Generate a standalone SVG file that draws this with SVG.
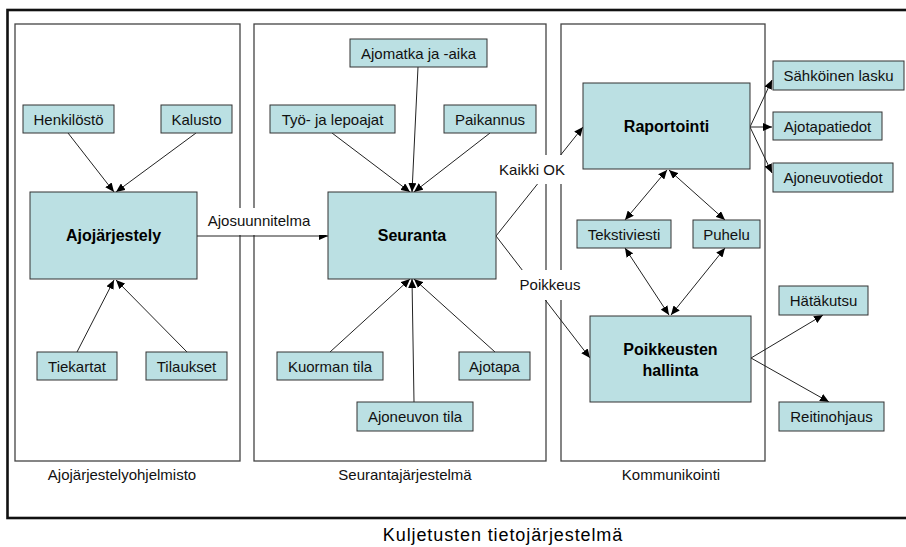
<svg xmlns="http://www.w3.org/2000/svg" width="906" height="547" viewBox="0 0 906 547">
  <defs>
    <marker id="arr" viewBox="0 0 9 8" refX="9" refY="4" markerWidth="9" markerHeight="8" markerUnits="userSpaceOnUse" orient="auto-start-reverse">
      <path d="M0,0 L9,4 L0,8 z" fill="#000"/>
    </marker>
    <style>
      .frame { fill: none; stroke: #111; stroke-width: 2.6; }
      .panel { fill: #fff; stroke: #444; stroke-width: 1.3; }
      .box { fill: #BBE0E3; stroke: #333; stroke-width: 1; }
      .t { font-family: "Liberation Sans", Arial, sans-serif; font-size: 15px; fill: #111; text-anchor: middle; }
      .b { font-family: "Liberation Sans", Arial, sans-serif; font-size: 16px; font-weight: bold; fill: #000; text-anchor: middle; }
      .title { font-family: "Liberation Sans", Arial, sans-serif; font-size: 18px; letter-spacing: 0.9px; fill: #000; text-anchor: middle; }
      .ln { fill: none; stroke: #222; stroke-width: 1; }
      .a { marker-end: url(#arr); }
      .aa { marker-start: url(#arr); marker-end: url(#arr); }
      .lbl { fill: #fff; stroke: none; }
    </style>
  </defs>

  <rect x="0" y="0" width="906" height="547" fill="#fff"/>

  <!-- outer system frame -->
  <rect class="frame" x="7.5" y="10" width="910" height="508"/>
  <text class="title" x="503" y="541">Kuljetusten tietojärjestelmä</text>

  <!-- subsystem panels -->
  <g id="panel-ajojarjestely">
    <rect class="panel" x="15" y="24" width="225" height="437"/>
    <text class="t" x="122" y="480">Ajojärjestelyohjelmisto</text>
  </g>
  <g id="panel-seuranta">
    <rect class="panel" x="254" y="24" width="292" height="437"/>
    <text class="t" x="405" y="480">Seurantajärjestelmä</text>
  </g>
  <g id="panel-kommunikointi">
    <rect class="panel" x="561" y="24" width="204" height="437"/>
    <text class="t" x="671" y="480">Kommunikointi</text>
  </g>

  <!-- connectors -->
  <g id="connectors">
    <line class="ln a" x1="68" y1="133" x2="114" y2="192"/>
    <line class="ln a" x1="196" y1="133" x2="116" y2="192"/>
    <line class="ln a" x1="77" y1="352" x2="114" y2="280"/>
    <line class="ln a" x1="187" y1="352" x2="116" y2="280"/>

    <line class="ln a" x1="197" y1="236" x2="328" y2="236"/>

    <line class="ln a" x1="418" y1="67" x2="412" y2="192"/>
    <line class="ln a" x1="332" y1="133" x2="410" y2="192"/>
    <line class="ln a" x1="490" y1="133" x2="414" y2="192"/>
    <line class="ln a" x1="330" y1="352" x2="410" y2="279"/>
    <line class="ln a" x1="414" y1="402" x2="412" y2="279"/>
    <line class="ln a" x1="495" y1="352" x2="414" y2="279"/>

    <line class="ln a" x1="496" y1="236" x2="583" y2="127"/>
    <line class="ln a" x1="496" y1="236" x2="590" y2="358"/>

    <line class="ln a" x1="750" y1="127" x2="772" y2="80"/>
    <line class="ln a" x1="750" y1="127" x2="772" y2="127"/>
    <line class="ln a" x1="750" y1="127" x2="772" y2="173"/>

    <line class="ln aa" x1="667" y1="170" x2="625" y2="220"/>
    <line class="ln aa" x1="669" y1="170" x2="725" y2="220"/>
    <line class="ln aa" x1="625" y1="248" x2="669" y2="315"/>
    <line class="ln aa" x1="725" y1="248" x2="671" y2="315"/>

    <line class="ln a" x1="751" y1="358" x2="823" y2="315"/>
    <line class="ln a" x1="751" y1="358" x2="829" y2="402"/>

    <!-- connector labels on white -->
    <rect class="lbl" x="198" y="208" width="129" height="27"/>
    <text class="t" x="259" y="226">Ajosuunnitelma</text>
    <rect class="lbl" x="496" y="155" width="71" height="29"/>
    <text class="t" x="532" y="175">Kaikki OK</text>
    <rect class="lbl" x="514" y="270" width="73" height="30"/>
    <text class="t" x="550" y="290">Poikkeus</text>
  </g>

  <!-- Ajojärjestelyohjelmisto nodes -->
  <g id="henkilosto"><rect class="box" x="23" y="105" width="91" height="28"/><text class="t" x="68.5" y="124.5">Henkilöstö</text></g>
  <g id="kalusto"><rect class="box" x="161" y="105" width="71" height="28"/><text class="t" x="196.5" y="124.5">Kalusto</text></g>
  <g id="ajojarjestely"><rect class="box" x="30" y="192" width="167" height="87"/><text class="b" x="113.5" y="241">Ajojärjestely</text></g>
  <g id="tiekartat"><rect class="box" x="37" y="352" width="80" height="28"/><text class="t" x="77" y="371.5">Tiekartat</text></g>
  <g id="tilaukset"><rect class="box" x="146" y="352" width="81" height="28"/><text class="t" x="186.5" y="371.5">Tilaukset</text></g>

  <!-- Seurantajärjestelmä nodes -->
  <g id="ajomatka"><rect class="box" x="350" y="39" width="137" height="28"/><text class="t" x="418.5" y="58.5">Ajomatka ja -aika</text></g>
  <g id="tyo-lepoajat"><rect class="box" x="270" y="105" width="125" height="28"/><text class="t" x="332.5" y="124.5">Työ- ja lepoajat</text></g>
  <g id="paikannus"><rect class="box" x="444" y="105" width="92" height="28"/><text class="t" x="490" y="124.5">Paikannus</text></g>
  <g id="seuranta"><rect class="box" x="328" y="192" width="168" height="87"/><text class="b" x="412" y="241">Seuranta</text></g>
  <g id="kuorman-tila"><rect class="box" x="277" y="352" width="106" height="28"/><text class="t" x="330" y="371.5">Kuorman tila</text></g>
  <g id="ajotapa"><rect class="box" x="459" y="352" width="71" height="28"/><text class="t" x="494.5" y="371.5">Ajotapa</text></g>
  <g id="ajoneuvon-tila"><rect class="box" x="357" y="402" width="116" height="29"/><text class="t" x="415" y="421.5">Ajoneuvon tila</text></g>

  <!-- Kommunikointi nodes -->
  <g id="raportointi"><rect class="box" x="583" y="83" width="167" height="86"/><text class="b" x="666.5" y="132">Raportointi</text></g>
  <g id="tekstiviesti"><rect class="box" x="577" y="220" width="94" height="28"/><text class="t" x="624" y="239.5">Tekstiviesti</text></g>
  <g id="puhelu"><rect class="box" x="693" y="220" width="67" height="28"/><text class="t" x="726.5" y="239.5">Puhelu</text></g>
  <g id="poikkeusten-hallinta"><rect class="box" x="590" y="316" width="161" height="86"/><text class="b" x="670.5" y="355">Poikkeusten</text><text class="b" x="670.5" y="376">hallinta</text></g>

  <!-- outputs -->
  <g id="sahkoinen-lasku"><rect class="box" x="773" y="61" width="131" height="29"/><text class="t" x="838.5" y="80.5">Sähköinen lasku</text></g>
  <g id="ajotapatiedot"><rect class="box" x="773" y="112" width="109" height="28"/><text class="t" x="827.5" y="131.5">Ajotapatiedot</text></g>
  <g id="ajoneuvotiedot"><rect class="box" x="773" y="163" width="120" height="29"/><text class="t" x="833" y="182.5">Ajoneuvotiedot</text></g>
  <g id="hatakutsu"><rect class="box" x="779" y="286" width="89" height="29"/><text class="t" x="823.5" y="305.5">Hätäkutsu</text></g>
  <g id="reitinohjaus"><rect class="box" x="779" y="402" width="105" height="29"/><text class="t" x="831.5" y="421.5">Reitinohjaus</text></g>
</svg>
